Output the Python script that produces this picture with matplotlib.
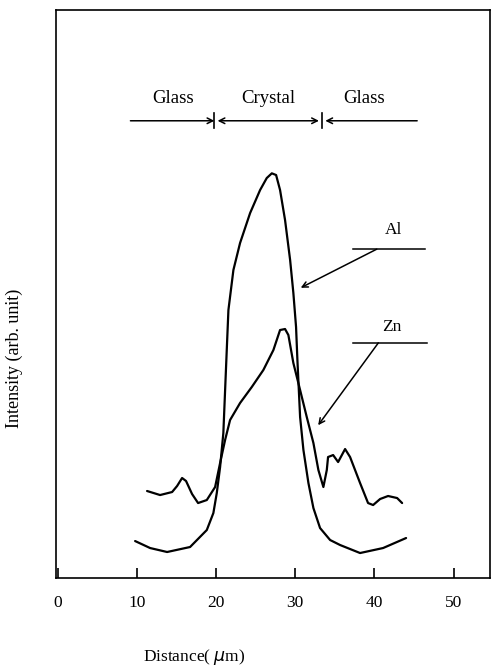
import numpy as np
import matplotlib
matplotlib.use('Agg')
import matplotlib.pyplot as plt

# profile (distance in um, intensity in arb. units)
al_x = [9.79, 11.68, 13.83, 16.73, 18.84, 19.67, 20.10, 20.52, 20.93, 21.36,
        21.57, 22.20, 23.04, 24.31, 25.57, 26.41, 27.05, 27.59, 28.09, 28.72,
        29.36, 29.77, 30.11, 30.28, 30.62, 31.04, 31.67, 32.30, 33.14, 34.41,
        35.67, 38.19, 41.10, 44.00]
al_y = [6.51, 5.28, 4.58, 5.46, 8.45, 11.44, 14.96, 19.54, 25.53, 40.14,
        47.18, 54.23, 58.98, 64.26, 68.31, 70.42, 71.25, 70.95, 68.31, 63.03,
        55.99, 50.18, 44.19, 38.38, 28.35, 22.54, 16.73, 12.32, 8.80, 6.69,
        5.81, 4.40, 5.28, 7.04]

zn_x = [11.30, 12.94, 14.46, 15.09, 15.72, 16.22, 16.98, 17.74, 18.84, 19.89,
        20.52, 21.15, 21.78, 23.04, 24.52, 25.98, 27.25, 28.09, 28.72, 29.14,
        29.77, 30.62, 31.46, 32.30, 32.93, 33.56, 33.99, 34.15, 34.79, 35.42,
        36.30, 36.93, 38.19, 39.20, 39.84, 40.72, 41.73, 42.87, 43.50]
zn_y = [15.32, 14.61, 15.14, 16.20, 17.61, 17.08, 14.79, 13.20, 13.73, 16.02,
        20.25, 24.30, 27.82, 30.81, 33.63, 36.62, 40.14, 43.66, 43.84, 42.78,
        37.85, 33.10, 28.35, 23.77, 19.01, 16.02, 19.01, 21.30, 21.65, 20.42,
        22.71, 21.30, 16.73, 13.20, 12.85, 13.91, 14.44, 14.08, 13.20]

xticks = [0, 10, 20, 30, 40, 50]
regions = ['Glass', 'Crystal', 'Glass']
region_x = [14.6, 26.6, 38.7]
bounds = [19.8, 33.4]

plt.rcParams['font.family'] = ['Liberation Serif', 'DejaVu Serif']

fig = plt.figure(figsize=(4.92, 6.68), dpi=100)
ax = fig.add_axes([0.1138, 0.1347, 0.8822, 0.8503])

ax.plot(al_x, al_y, color='black', lw=1.6, solid_joinstyle='round',
        solid_capstyle='round')
ax.plot(zn_x, zn_y, color='black', lw=1.6, solid_joinstyle='round',
        solid_capstyle='round')

ax.set_xlim(-0.2, 54.6)
ax.set_ylim(0, 100)
ax.set_yticks([])
ax.set_xticks(xticks)
ax.set_xticklabels([str(t) for t in xticks])
ax.tick_params(axis='x', direction='in', length=7, width=1.2, pad=12,
               labelsize=12.5)
for s in ax.spines.values():
    s.set_linewidth(1.2)

ax.set_xlabel('Distance( $\\mu$m)', fontsize=12.5)
ax.xaxis.set_label_coords(0.318, -0.122)
ax.set_ylabel('Intensity (arb. unit)', fontsize=13)
ax.yaxis.set_label_coords(-0.076, 0.387)

# region labels and arrows
for name, xc in zip(regions, region_x):
    ax.text(xc, 84.5, name, ha='center', va='center', fontsize=13.5)

ya = 80.5
arr = dict(arrowstyle='->', color='black', lw=1.1, shrinkA=0, shrinkB=0)
ax.annotate('', xy=(bounds[0], ya), xytext=(9.2, ya), arrowprops=arr)
ax.annotate('', xy=(bounds[1] - 0.4, ya), xytext=(bounds[0] + 0.4, ya),
            arrowprops=dict(arr, arrowstyle='<->'))
ax.annotate('', xy=(bounds[1] + 0.4, ya), xytext=(45.4, ya), arrowprops=arr)
for b in bounds:
    ax.plot([b, b], [79.2, 81.9], color='black', lw=1.2)

# element labels with leader lines
ax.text(42.4, 61.3, 'Al', ha='center', va='center', fontsize=12.5)
ax.plot([37.3, 46.4], [57.9, 57.9], color='black', lw=1.1)
ax.annotate('', xy=(30.7, 51.1), xytext=(40.3, 57.9), arrowprops=arr)

ax.text(42.2, 44.2, 'Zn', ha='center', va='center', fontsize=12.5)
ax.plot([37.3, 46.6], [41.4, 41.4], color='black', lw=1.1)
ax.annotate('', xy=(32.9, 26.9), xytext=(40.5, 41.4), arrowprops=arr)

fig.savefig('out.png', dpi=100)
